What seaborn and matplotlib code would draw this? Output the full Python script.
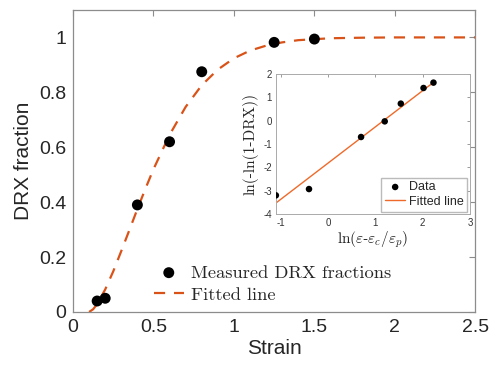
import numpy as np
import pandas as pd
import matplotlib
matplotlib.use('Agg')
import matplotlib.pyplot as plt
import seaborn as sns

# measured DRX fractions
strain = [0.15, 0.2, 0.4, 0.6, 0.8, 1.25, 1.5]
drx = [0.04, 0.05, 0.39, 0.62, 0.875, 0.982, 0.994]

# fitted Avrami curve
fit_strain = [0.1, 0.125, 0.15, 0.2, 0.25, 0.3, 0.35, 0.4, 0.45, 0.5, 0.6, 0.7,
              0.8, 0.9, 1.0, 1.1, 1.2, 1.3, 1.4, 1.6, 1.8, 2.0, 2.5]
fit_drx = [0.0, 0.01, 0.029, 0.082, 0.148, 0.222, 0.298, 0.375, 0.449, 0.52, 0.645, 0.747,
           0.826, 0.883, 0.924, 0.952, 0.970, 0.982, 0.990, 0.997, 0.999, 1.0, 1.0]

# inset: linearised data
ln_x = [-1.1, -0.4, 0.7, 1.2, 1.54, 2.02, 2.23]
ln_y = [-3.20, -2.93, -0.70, -0.03, 0.73, 1.40, 1.63]
line_x = [-1.1, 2.23]
line_y = [-3.53, 1.64]

sns.set_style('white')
plt.rcParams['font.family'] = ['Liberation Sans', 'DejaVu Sans']
plt.rcParams['mathtext.fontset'] = 'cm'

orange = '#D95319'
gray = '#8c8c8c'

fig = plt.figure(figsize=(4.9, 3.69), dpi=100)
ax = fig.add_axes([0.149, 0.1545, 0.821, 0.8185])

df = pd.DataFrame({'Strain': strain, 'DRX': drx})
fit = pd.DataFrame({'Strain': fit_strain, 'DRX': fit_drx})
sns.scatterplot(data=df, x='Strain', y='DRX', ax=ax, color='black', s=62,
                edgecolor='none', label='Measured DRX fractions', zorder=3)
sns.lineplot(data=fit, x='Strain', y='DRX', ax=ax, color=orange, lw=1.6,
             dashes=(5, 4), label='Fitted line', zorder=2)

ax.set_xlim(0, 2.5)
ax.set_ylim(0, 1.1)
ax.set_xticks([0, 0.5, 1, 1.5, 2, 2.5])
ax.set_xticklabels(['0', '0.5', '1', '1.5', '2', '2.5'])
ax.set_yticks([0, 0.2, 0.4, 0.6, 0.8, 1])
ax.set_yticklabels(['0', '0.2', '0.4', '0.6', '0.8', '1'])
ax.tick_params(direction='in', length=4, width=0.8, color=gray, labelsize=14,
               top=True, right=True, pad=5)
for s in ax.spines.values():
    s.set_color(gray)
    s.set_linewidth(0.9)
ax.set_xlabel('Strain', fontsize=15, labelpad=2)
ax.set_ylabel('DRX fraction', fontsize=15, labelpad=4)
leg = ax.legend(loc='lower left', bbox_to_anchor=(0.16, -0.025), frameon=False,
                prop={'family': 'cmr10', 'size': 13.3}, handlelength=1.6,
                handletextpad=0.4, labelspacing=0.35)

# inset
ins = fig.add_axes([0.563, 0.42, 0.396, 0.3795])
sns.scatterplot(x=ln_x, y=ln_y, ax=ins, color='black', s=22, edgecolor='none',
                label='Data', zorder=3)
sns.lineplot(x=line_x, y=line_y, ax=ins, color='#EE6A2A', lw=1.0,
             label='Fitted line', zorder=2)
ins.set_xlim(-1.1, 3)
ins.set_ylim(-4, 2)
ins.set_xticks([-1, 0, 1, 2, 3])
ins.set_yticks([-4, -3, -2, -1, 0, 1, 2])
ins.set_xticklabels(['-1', '0', '1', '2', '3'])
ins.set_yticklabels(['-4', '-3', '-2', '-1', '0', '1', '2'])
ins.tick_params(direction='in', length=2.5, width=0.6, color=gray, labelsize=7,
                labelcolor='#333333', top=True, right=True, pad=3)
for s in ins.spines.values():
    s.set_color('#aaaaaa')
    s.set_linewidth(0.7)
ins.set_xlabel(r'$\ln(\varepsilon$-$\varepsilon_c/\varepsilon_p)$', fontsize=11, labelpad=1)
ins.set_ylabel('ln(-ln(1-DRX))', family='cmr10', fontsize=11, labelpad=3)
ins.legend(loc='lower right', fontsize=9, frameon=True, fancybox=False,
           edgecolor='#aaaaaa', handlelength=1.6, handletextpad=0.3,
           borderpad=0.3, labelspacing=0.2, borderaxespad=0.2)

fig.savefig('out.png', dpi=100)
